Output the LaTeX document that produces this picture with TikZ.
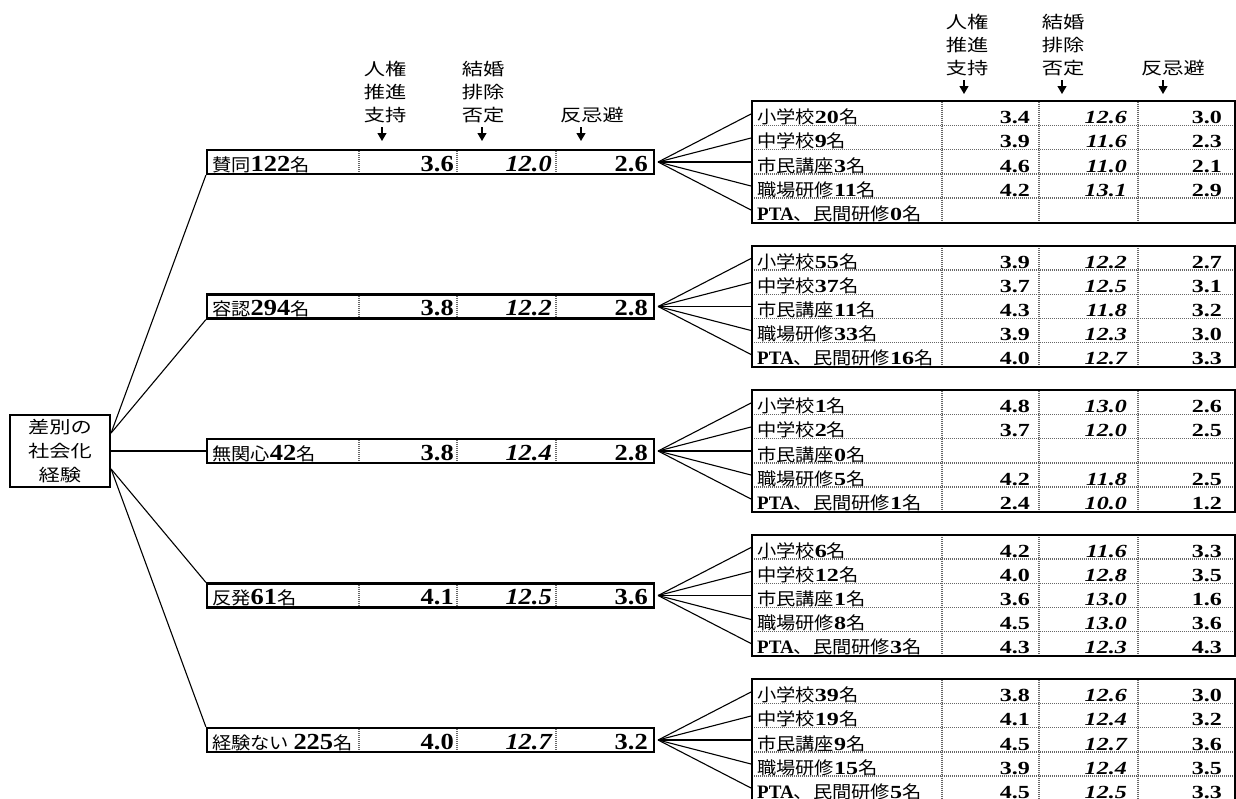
\documentclass[tikz,border=0pt]{standalone}
\usepackage{fontspec}
\usetikzlibrary{arrows.meta}
\setmainfont{Liberation Serif}
\newfontfamily\jpl[FakeStretch=1.1]{Noto Sans CJK JP}
\newfontfamily\jpw[FakeStretch=1.25]{Noto Sans CJK JP}
\newfontfamily\numL[FakeStretch=1.15]{Liberation Serif}
\newfontfamily\numR[FakeStretch=1.3]{Liberation Serif}
\newcommand\J{\jpl\fontsize{17.5}{17.5}\selectfont}
\newcommand\lnum{\numL\bfseries\fontsize{23}{23}\selectfont}
\newcommand\lnumi{\numL\bfseries\itshape\fontsize{23}{23}\selectfont}
\newcommand\rnum{\numR\bfseries\fontsize{18.5}{18.5}\selectfont}
\newcommand\rnumi{\numR\bfseries\itshape\fontsize{18.5}{18.5}\selectfont}
\newcommand\pta{{\bfseries\fontsize{19}{19}\selectfont PTA}}
\tikzset{
 conn/.style={line width=1.1pt},
 box/.style={draw, line width=2.2pt, inner sep=0pt},
 sep/.style={draw=black!60, line width=1.8pt, dash pattern=on 1pt off 1pt},
 hsep/.style={draw=black!60, line width=1.3pt, dash pattern=on 1pt off 1pt},
 arr/.style={line width=1.2pt, -{Triangle[width=9pt,length=8pt]}},
 txt/.style={inner sep=0pt, anchor=base west},
 num/.style={inner sep=0pt, anchor=base east},
 hdr/.style={inner sep=0pt, align=center, font=\jpw\fontsize{17}{23}\selectfont},
}
\newcommand\lrow[5]{%
 \pgfmathsetmacro\cy{162+144.5*(#1-1)}%
 \node[box, minimum width=447pt, minimum height=24pt] (L#1) at (430.5,\cy) {};
 \foreach \xx in {359,457,556}{\draw[sep] (\xx,\cy-11) -- (\xx,\cy+11);}
 \node[txt] (L#1l) at (212,\cy+9) {#2};
 \node[num] (L#1a) at (454,\cy+9) {\lnum #3};
 \node[num] (L#1b) at (552,\cy+9) {\lnumi #4};
 \node[num] (L#1c) at (648,\cy+9) {\lnum #5};
}
\newcommand\rrow[6]{%
 \pgfmathsetmacro\ry{162+144.5*(#1-1)-60.5+24.2*(#2-1)+12.1}%
 \node[inner sep=0pt, minimum width=483pt, minimum height=24.2pt] (R#1#2) at (993.5,\ry) {};
 \node[txt] (R#1#2l) at (757,\ry+10) {#3};
 \node[num] (R#1#2a) at (1030,\ry+10) {\rnum #4};
 \node[num] (R#1#2b) at (1127,\ry+10) {\rnumi #5};
 \node[num] (R#1#2c) at (1222,\ry+10) {\rnum #6};
}
\newcommand\rframe[1]{%
 \pgfmathsetmacro\ttop{162+144.5*(#1-1)-60.5}%
 \pgfmathsetmacro\tbot{\ttop+121}%
 \foreach \j in {2,...,5}{\draw[hsep] (R#1\j.north west) -- (R#1\j.north east);}
 \foreach \xx in {942,1039,1138}{\draw[sep] (\xx,\ttop) -- (\xx,\tbot);}
 \draw[line width=2.2pt] (R#11.north west) rectangle (R#15.south east);
 \foreach \j in {1,...,5}{\draw[conn] ([xshift=3pt]L#1.east) -- (R#1\j.west);}
}
\begin{document}
\begin{tikzpicture}[x=1pt,y=-1pt]
\useasboundingbox (0,0) rectangle (1236,798);
% root
\node[box, minimum width=100pt, minimum height=72pt, align=center, font=\jpw\fontsize{17}{24}\selectfont] (root) at (60,451) {差別の\\社会化\\経験};
% headers left
\node[hdr] (h1) at (385,92) {人権\\推進\\支持};
\node[hdr] (h2) at (483,92) {結婚\\排除\\否定};
\node[hdr] (h3) at (592,115) {反忌避};
\coordinate (a1s) at (382,127); \coordinate (a1e) at (382,141);
\coordinate (a2s) at (482,127); \coordinate (a2e) at (482,141);
\coordinate (a3s) at (581,127); \coordinate (a3e) at (581,141);
\draw[arr] (a1s) -- (a1e); \draw[arr] (a2s) -- (a2e); \draw[arr] (a3s) -- (a3e);
% headers right
\node[hdr] (g1) at (967,45) {人権\\推進\\支持};
\node[hdr] (g2) at (1063,45) {結婚\\排除\\否定};
\node[hdr] (g3) at (1173,68) {反忌避};
\coordinate (b1s) at (964,80); \coordinate (b1e) at (964,94);
\coordinate (b2s) at (1062,80); \coordinate (b2e) at (1062,94);
\coordinate (b3s) at (1163,80); \coordinate (b3e) at (1163,94);
\draw[arr] (b1s) -- (b1e); \draw[arr] (b2s) -- (b2e); \draw[arr] (b3s) -- (b3e);
% level 1
\lrow{1}{{\J 賛同}{\lnum 122}{\J 名}}{3.6}{12.0}{2.6}
\lrow{2}{{\J 容認}{\lnum 294}{\J 名}}{3.8}{12.2}{2.8}
\lrow{3}{{\J 無関心}{\lnum 42}{\J 名}}{3.8}{12.4}{2.8}
\lrow{4}{{\J 反発}{\lnum 61}{\J 名}}{4.1}{12.5}{3.6}
\lrow{5}{{\J 経験ない }{\lnum 225}{\J 名}}{4.0}{12.7}{3.2}
% table 1
\rrow{1}{1}{{\J 小学校}{\rnum 20}{\J 名}}{3.4}{12.6}{3.0}
\rrow{1}{2}{{\J 中学校}{\rnum 9}{\J 名}}{3.9}{11.6}{2.3}
\rrow{1}{3}{{\J 市民講座}{\rnum 3}{\J 名}}{4.6}{11.0}{2.1}
\rrow{1}{4}{{\J 職場研修}{\rnum 11}{\J 名}}{4.2}{13.1}{2.9}
\rrow{1}{5}{\pta{\J 、民間研修}{\rnum 0}{\J 名}}{}{}{}
\rframe{1}
% table 2
\rrow{2}{1}{{\J 小学校}{\rnum 55}{\J 名}}{3.9}{12.2}{2.7}
\rrow{2}{2}{{\J 中学校}{\rnum 37}{\J 名}}{3.7}{12.5}{3.1}
\rrow{2}{3}{{\J 市民講座}{\rnum 11}{\J 名}}{4.3}{11.8}{3.2}
\rrow{2}{4}{{\J 職場研修}{\rnum 33}{\J 名}}{3.9}{12.3}{3.0}
\rrow{2}{5}{\pta{\J 、民間研修}{\rnum 16}{\J 名}}{4.0}{12.7}{3.3}
\rframe{2}
% table 3
\rrow{3}{1}{{\J 小学校}{\rnum 1}{\J 名}}{4.8}{13.0}{2.6}
\rrow{3}{2}{{\J 中学校}{\rnum 2}{\J 名}}{3.7}{12.0}{2.5}
\rrow{3}{3}{{\J 市民講座}{\rnum 0}{\J 名}}{}{}{}
\rrow{3}{4}{{\J 職場研修}{\rnum 5}{\J 名}}{4.2}{11.8}{2.5}
\rrow{3}{5}{\pta{\J 、民間研修}{\rnum 1}{\J 名}}{2.4}{10.0}{1.2}
\rframe{3}
% table 4
\rrow{4}{1}{{\J 小学校}{\rnum 6}{\J 名}}{4.2}{11.6}{3.3}
\rrow{4}{2}{{\J 中学校}{\rnum 12}{\J 名}}{4.0}{12.8}{3.5}
\rrow{4}{3}{{\J 市民講座}{\rnum 1}{\J 名}}{3.6}{13.0}{1.6}
\rrow{4}{4}{{\J 職場研修}{\rnum 8}{\J 名}}{4.5}{13.0}{3.6}
\rrow{4}{5}{\pta{\J 、民間研修}{\rnum 3}{\J 名}}{4.3}{12.3}{4.3}
\rframe{4}
% table 5
\rrow{5}{1}{{\J 小学校}{\rnum 39}{\J 名}}{3.8}{12.6}{3.0}
\rrow{5}{2}{{\J 中学校}{\rnum 19}{\J 名}}{4.1}{12.4}{3.2}
\rrow{5}{3}{{\J 市民講座}{\rnum 9}{\J 名}}{4.5}{12.7}{3.6}
\rrow{5}{4}{{\J 職場研修}{\rnum 15}{\J 名}}{3.9}{12.4}{3.5}
\rrow{5}{5}{\pta{\J 、民間研修}{\rnum 5}{\J 名}}{4.5}{12.5}{3.3}
\rframe{5}
% root connectors
\draw[conn] ([yshift=18pt]root.east) -- (L1.south west);
\draw[conn] ([yshift=18pt]root.east) -- (L2.south west);
\draw[conn] (root.east) -- (L3.west);
\draw[conn] ([yshift=-18pt]root.east) -- (L4.north west);
\draw[conn] ([yshift=-18pt]root.east) -- (L5.north west);
\end{tikzpicture}
\end{document}
